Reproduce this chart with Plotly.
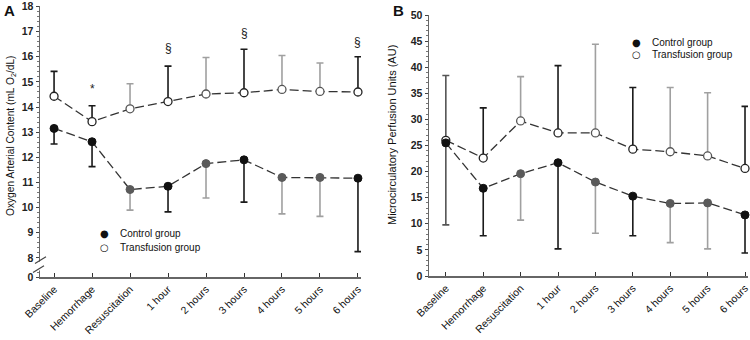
import plotly.graph_objects as go

categories = ["Baseline", "Hemorrhage", "Resuscitation", "1 hour", "2 hours",
              "3 hours", "4 hours", "5 hours", "6 hours"]

# Panel A: Oxygen arterial content (mL O2/dL)
a_transf_mean = [14.43, 13.42, 13.93, 14.22, 14.52, 14.57, 14.70, 14.62, 14.60]
a_transf_upper = [15.42, 14.05, 14.93, 15.63, 15.97, 16.30, 16.05, 15.75, 16.00]
a_ctrl_mean = [13.15, 12.62, 10.72, 10.85, 11.75, 11.90, 11.20, 11.20, 11.17]
a_ctrl_lower = [12.53, 11.63, 9.90, 9.83, 10.38, 10.22, 9.75, 9.65, 8.25]
a_marks = {"Hemorrhage": ("*", 14.72), "1 hour": ("§", 16.35),
           "3 hours": ("§", 16.95), "6 hours": ("§", 16.58)}
a_ytickvals = [7.24, 8, 9, 10, 11, 12, 13, 14, 15, 16, 17, 18]
a_yticktext = ["0", "8", "9", "10", "11", "12", "13", "14", "15", "16", "17", "18"]
a_title = "Oxygen Arterial Content (mL O<sub>2</sub>/dL)"

# Panel B: Microcirculatory perfusion units (AU)
b_transf_mean = [26.0, 22.6, 29.7, 27.4, 27.4, 24.3, 23.8, 23.0, 20.6]
b_transf_upper = [38.4, 32.2, 38.2, 40.3, 44.4, 36.1, 36.1, 35.1, 32.5]
b_ctrl_mean = [25.5, 16.8, 19.6, 21.7, 18.0, 15.3, 13.9, 14.0, 11.7]
b_ctrl_lower = [9.8, 7.7, 10.7, 5.2, 8.2, 7.7, 6.4, 5.2, 4.4]
b_title = "Microcirculatory Perfusion Units (AU)"

legend_labels = ["Control group", "Transfusion group"]

# shade of each time point (error bar / marker tone), as in the original figure
a_tone = ["k", "k", "g", "k", "g", "k", "g", "g", "k"]
b_tone = ["d", "k", "g", "k", "g", "k", "g", "g", "k"]

ERR = {"k": "#1a1a1a", "g": "#a0a0a0", "d": "#555555"}
FILL = {"k": "#111111", "g": "#5a5a5a", "d": "#111111"}
OPEN_LINE = {"k": "#222222", "g": "#555555", "d": "#222222"}

FONT = "Liberation Sans, Arial, sans-serif"
W, H = 750, 340

fig = go.Figure()


def add_series(xa, ya, mean, bound, tones, filled, upward):
    fig.add_trace(go.Scatter(
        x=categories, y=mean, mode="lines", xaxis=xa, yaxis=ya,
        line=dict(color="#333333", width=1.3, dash="9px,4px"),
        showlegend=False, hoverinfo="skip"))
    for tone in sorted(set(tones)):
        idx = [i for i, t in enumerate(tones) if t == tone]
        xs = [categories[i] for i in idx]
        ys = [mean[i] for i in idx]
        diffs = [abs(bound[i] - mean[i]) for i in idx]
        zeros = [0] * len(idx)
        err = dict(type="data", symmetric=False,
                   array=diffs if upward else zeros,
                   arrayminus=zeros if upward else diffs,
                   color=ERR[tone], thickness=1.6, width=3.5)
        if filled:
            marker = dict(size=8, color=FILL[tone],
                          line=dict(color=FILL[tone], width=1))
        else:
            marker = dict(size=8, color="white",
                          line=dict(color=OPEN_LINE[tone], width=1.3))
        fig.add_trace(go.Scatter(
            x=xs, y=ys, mode="markers", xaxis=xa, yaxis=ya,
            marker=marker, error_y=err, showlegend=False, cliponaxis=False))


add_series("x", "y", a_transf_mean, a_transf_upper, a_tone, False, True)
add_series("x", "y", a_ctrl_mean, a_ctrl_lower, a_tone, True, False)
add_series("x2", "y2", b_transf_mean, b_transf_upper, b_tone, False, True)
add_series("x2", "y2", b_ctrl_mean, b_ctrl_lower, b_tone, True, False)

axis_common = dict(showgrid=False, zeroline=False, showline=True,
                   linecolor="#666666", linewidth=1.5, automargin=False)

xcommon = dict(axis_common, type="category", tickangle=-45,
               ticks="inside", ticklen=4, tickcolor="#333333", tickwidth=1,
               linewidth=2,
               tickfont=dict(family=FONT, size=10.5, color="#111111"))

ytickfont = dict(family=FONT, size=10.5, color="#222222", weight="bold")

fig.update_layout(
    width=W, height=H, margin=dict(l=0, r=0, t=0, b=0),
    paper_bgcolor="white", plot_bgcolor="white",
    font=dict(family=FONT, color="#222222"),
    xaxis=dict(xcommon, domain=[40 / W, 361 / W], range=[-0.37, 8.08],
               anchor="y"),
    yaxis=dict(axis_common, domain=[(H - 277) / H, (H - 6) / H],
               range=[7.24, 18.02], tickvals=a_ytickvals, ticktext=a_yticktext,
               ticks="outside", ticklen=3, tickcolor="#444444",
               tickfont=ytickfont,
               minor=dict(ticks="outside", ticklen=2, dtick=0.2,
                          tickcolor="#777777"),
               anchor="x"),
    xaxis2=dict(xcommon, domain=[429 / W, 748 / W], range=[-0.45, 8.08],
                anchor="y2"),
    yaxis2=dict(axis_common, domain=[(H - 276) / H, (H - 15) / H],
                range=[0, 50], dtick=5,
                ticks="outside", ticklen=3, tickcolor="#444444",
                tickfont=ytickfont,
                minor=dict(ticks="outside", ticklen=2, dtick=1,
                           tickcolor="#777777"),
                anchor="x2"),
)

# y axis titles
fig.add_annotation(x=11 / W, y=1 - 136 / H, xref="paper", yref="paper", text=a_title,
                   textangle=-90, showarrow=False, xanchor="center", yanchor="middle",
                   font=dict(family=FONT, size=10.2, color="#111111"))
fig.add_annotation(x=392 / W, y=1 - 135 / H, xref="paper", yref="paper", text=b_title,
                   textangle=-90, showarrow=False, xanchor="center", yanchor="middle",
                   font=dict(family=FONT, size=11, color="#111111"))

# significance marks
for cat, (sym, yv) in a_marks.items():
    fig.add_annotation(x=cat, y=yv, xref="x", yref="y", text=sym,
                       showarrow=False, font=dict(family=FONT, size=12, color="#222222"))

# panel letters
fig.add_annotation(x=2 / W, y=1 - 11 / H, xref="paper", yref="paper", text="<b>A</b>",
                   showarrow=False, xanchor="left", yanchor="middle",
                   font=dict(family=FONT, size=15, color="#111111"))
fig.add_annotation(x=391 / W, y=1 - 11 / H, xref="paper", yref="paper", text="<b>B</b>",
                   showarrow=False, xanchor="left", yanchor="middle",
                   font=dict(family=FONT, size=15, color="#111111"))


# legends (drawn as text)
def legend(x_sym, y_top, gap):
    syms = ["●", "○"]
    for k, (sym, lab) in enumerate(zip(syms, legend_labels)):
        yy = 1 - (y_top + k * gap) / H
        fig.add_annotation(x=x_sym / W, y=yy, xref="paper", yref="paper", text=sym,
                           showarrow=False, xanchor="center", yanchor="middle",
                           font=dict(family="DejaVu Sans", size=10, color="#111111"))
        fig.add_annotation(x=(x_sym + 14) / W, y=yy, xref="paper", yref="paper", text=lab,
                           showarrow=False, xanchor="left", yanchor="middle",
                           font=dict(family=FONT, size=10, color="#111111"))


legend(104, 233, 14)
legend(636, 42, 13)

# axis break marks on panel A
fig.add_shape(type="rect", xref="paper", yref="y", x0=36 / W, x1=44 / W,
              y0=7.5, y1=7.85, fillcolor="white", line=dict(width=0), layer="above")
for (x0, y0, x1, y1) in [(35, 7.78, 46, 8.05), (33, 7.42, 44, 7.69)]:
    fig.add_shape(type="line", xref="paper", yref="y", x0=x0 / W, x1=x1 / W,
                  y0=y0, y1=y1, line=dict(color="#444444", width=1.2), layer="above")

fig.write_html("out.html", config={"displayModeBar": False, "staticPlot": True},
               post_script="document.body.style.margin='0';"
                           "document.documentElement.style.overflow='hidden';")
